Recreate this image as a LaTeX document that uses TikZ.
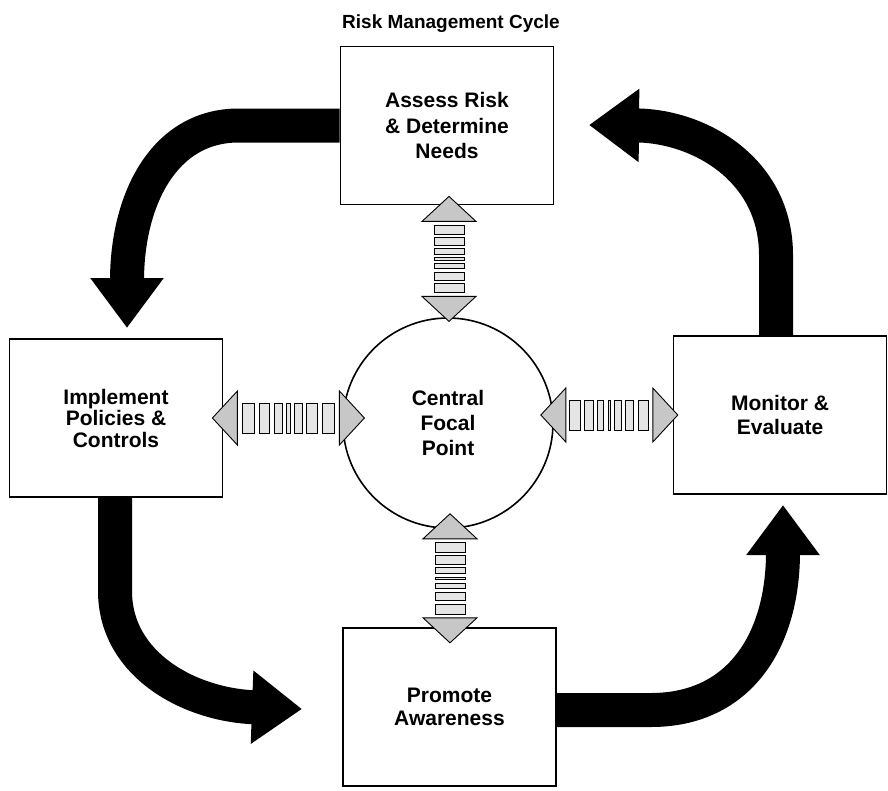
\documentclass[tikz,border=0pt]{standalone}
\usepackage{fontspec}
\setmainfont{Liberation Sans}
\usetikzlibrary{arrows.meta,calc}
\begin{document}
\begin{tikzpicture}[x=1pt,y=-1pt,
  box/.style={draw,line width=1.8pt,minimum width=213pt,minimum height=158pt,inner sep=0pt,align=center,font=\fontsize{21}{23.5}\selectfont\bfseries},
  hub/.style={draw,circle,line width=1.6pt,minimum size=210pt,inner sep=0pt,align=center,font=\fontsize{21}{25}\selectfont\bfseries},
  flow/.style={line width=34pt,-{Triangle[length=50pt,width=70pt]}},
  headsty/.style={draw,line width=0.9pt,fill=black!22,line join=miter},
  barsty/.style={draw,line width=0.9pt,fill=black!10},
  dbl/.pic={
    \pgfmathsetmacro\dL{#1}
    \def\dH{25}
    \pgfmathsetmacro\dR{\dL-2*\dH}
    \pgfmathsetmacro\dk{0.62*\dR/61}
    \pgfmathsetmacro\dg{0.38*\dR/8}
    \foreach \w/\c [count=\i] in {12/0,10/12,7/22,3/29,7/32,10/39,12/49}
      \draw[barsty] ({\dH+\i*\dg+\dk*\c},-15) rectangle ++({\dk*\w},30);
    \draw[headsty] (0,0) -- (\dH,-27) -- (\dH,27) -- cycle;
    \draw[headsty] (\dL,0) -- (\dL-\dH,-27) -- (\dL-\dH,27) -- cycle;
  }
]
\useasboundingbox (0,0) rectangle (888,790);

\node[font=\fontsize{19}{22}\selectfont\bfseries,anchor=base] (title) at (451,28) {Risk Management Cycle};

\coordinate (tl) at (127,328);
\coordinate (tr) at (589,125);
\coordinate (bl) at (302,709);
\coordinate (br) at (783,505);

\node[box,font=\fontsize{21}{25.5}\selectfont\bfseries] (assess) at (447,125.5) {Assess Risk\\\& Determine\\Needs};
\node[box,font=\fontsize{21}{21.5}\selectfont\bfseries] (implement) at (116,418) {Implement\\Policies \&\\Controls};
\node[box] (monitor) at (780,415) {Monitor \&\\Evaluate};
\node[box] (promote) at (449.5,707) {Promote\\Awareness};
\node[hub] (focal) at (448,423) {Central\\Focal\\Point};

\draw[flow] (assess.west) -- ++(-101,0) .. controls +(-75,0) and (127,200) .. (tl);
\draw[flow] ($(monitor.north)+(-4,0)$) -- ++(0,-80) .. controls (776,170) and (700,126) .. (tr);
\draw[flow] ($(implement.south)+(-1,0)$) -- ++(0,93) .. controls (115,665) and (190,705) .. (bl);
\draw[flow] ($(promote.east)+(0,3)$) -- ++(94,0) .. controls (740,710) and (783,640) .. (br);

\path ($(assess.south -| focal)+(1,-9)$) -- ($(focal.north)+(1,2)$) pic[pos=0,sloped,allow upside down]{dbl=125};
\path ($(focal.south)+(2,-15)$) -- ($(promote.north -| focal)+(2,14)$) pic[pos=0,sloped,allow upside down]{dbl=129};
\path ($(implement.east)+(-11,0)$) -- ($(implement.east -| focal.west)+(21,0)$) pic[pos=0,sloped,allow upside down]{dbl=152};
\path ($(monitor.west -| focal.east)+(-13,0)$) -- ($(monitor.west)+(4,0)$) pic[pos=0,sloped,allow upside down]{dbl=137};
\end{tikzpicture}
\end{document}
